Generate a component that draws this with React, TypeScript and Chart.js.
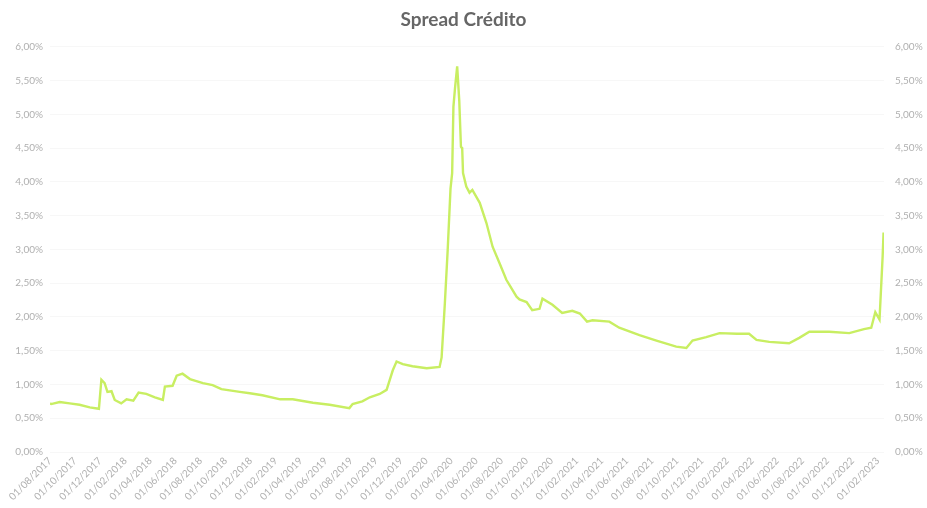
import React, { useEffect, useRef } from "react";
import { Chart, registerables } from "chart.js";

Chart.register(...registerables);

const chartTitle = "Spread Crédito";

const dates: string[] = [
  "01/08/2017", "04/08/2017", "25/08/2017", "18/09/2017", "12/10/2017", "06/11/2017", "28/11/2017",
  "04/12/2017", "12/12/2017", "19/12/2017", "29/12/2017", "06/01/2018", "22/01/2018",
  "04/02/2018", "19/02/2018", "03/03/2018", "22/03/2018", "12/04/2018", "01/05/2018",
  "06/05/2018", "25/05/2018", "04/06/2018", "18/06/2018", "06/07/2018", "07/08/2018",
  "31/08/2018", "21/09/2018", "05/11/2018", "29/11/2018", "30/12/2018", "11/02/2019",
  "12/03/2019", "30/04/2019", "10/06/2019", "28/07/2019", "05/08/2019", "29/08/2019",
  "16/09/2019", "10/10/2019", "27/10/2019", "11/11/2019", "20/11/2019", "05/12/2019",
  "29/12/2019", "02/02/2020", "03/03/2020", "08/03/2020", "16/03/2020", "23/03/2020",
  "30/03/2020", "03/04/2020", "06/04/2020", "10/04/2020", "15/04/2020", "20/04/2020",
  "24/04/2020", "27/04/2020", "29/04/2020", "07/05/2020", "15/05/2020", "22/05/2020",
  "09/06/2020", "25/06/2020", "10/07/2020", "27/07/2020", "13/08/2020", "07/09/2020",
  "14/09/2020", "01/10/2020", "15/10/2020", "02/11/2020", "09/11/2020", "03/12/2020",
  "27/12/2020", "21/01/2021", "08/02/2021", "24/02/2021", "09/03/2021", "19/04/2021",
  "13/05/2021", "01/07/2021", "12/08/2021", "29/09/2021", "24/10/2021", "08/11/2021",
  "11/12/2021", "13/01/2022", "23/02/2022", "24/03/2022", "11/04/2022", "12/05/2022",
  "29/06/2022", "24/07/2022", "18/08/2022", "05/10/2022", "23/11/2022", "29/12/2022",
  "16/01/2023", "26/01/2023", "05/02/2023", "12/02/2023", "14/02/2023", "15/02/2023",
];

const spread: number[] = [
  0.72, 0.71, 0.74, 0.72, 0.70, 0.66, 0.64,
  1.07, 1.02, 0.89, 0.90, 0.77, 0.72,
  0.78, 0.76, 0.88, 0.86, 0.81, 0.77,
  0.97, 0.98, 1.13, 1.16, 1.08, 1.02,
  0.99, 0.93, 0.89, 0.87, 0.84, 0.78,
  0.78, 0.73, 0.70, 0.65, 0.71, 0.75,
  0.81, 0.86, 0.92, 1.21, 1.34, 1.30,
  1.27, 1.24, 1.26, 1.40, 2.20, 2.99,
  3.90, 4.13, 5.11, 5.40, 5.71, 5.20,
  4.52, 4.50, 4.13, 3.93, 3.84, 3.88,
  3.69, 3.39, 3.04, 2.80, 2.55, 2.30,
  2.26, 2.22, 2.10, 2.12, 2.27, 2.18,
  2.06, 2.09, 2.05, 1.93, 1.95, 1.93,
  1.84, 1.73, 1.65, 1.56, 1.54, 1.65,
  1.70, 1.76, 1.75, 1.75, 1.66, 1.63,
  1.61, 1.69, 1.78, 1.78, 1.76, 1.82,
  1.84, 2.07, 1.96, 2.90, 3.25, 3.05,
];

const startYear = 2017;
const startMonth = 8; // August
const yTickStep = 0.5;
const yMax = 6;
const xMax = 66.5;

function toMonthOffset(d: string): number {
  const [dd, mm, yyyy] = d.split("/").map(Number);
  const daysInMonth = new Date(yyyy, mm, 0).getDate();
  return (yyyy - startYear) * 12 + (mm - startMonth) + (dd - 1) / daysInMonth;
}

function monthLabel(v: number): string {
  const total = startMonth - 1 + Math.round(v);
  const y = startYear + Math.floor(total / 12);
  const m = (total % 12) + 1;
  return "01/" + String(m).padStart(2, "0") + "/" + y;
}

const pct = (v: number) => v.toFixed(2).replace(".", ",") + "%";

export default function App() {
  const ref = useRef<HTMLCanvasElement | null>(null);

  useEffect(() => {
    if (!ref.current) return;
    const tickFont = { family: "Lato, 'Open Sans', sans-serif", size: 10 };
    const tickColor = "#b0b0b0";
    const chart = new Chart(ref.current, {
      type: "line",
      data: {
        datasets: [
          {
            label: "Spread",
            data: dates.map((d, i) => ({ x: toMonthOffset(d), y: spread[i] })),
            borderColor: "#c8ee62",
            borderWidth: 2.4,
            pointRadius: 0,
            tension: 0,
            fill: false,
          },
        ],
      },
      options: {
        animation: false,
        responsive: false,
        maintainAspectRatio: false,
        layout: { padding: { left: 0, right: 0, top: 0, bottom: 0 } },
        plugins: {
          legend: { display: false },
          tooltip: { enabled: false },
          title: {
            display: true,
            text: chartTitle,
            color: "#666666",
            font: { family: "Lato, 'Open Sans', sans-serif", size: 19, weight: "bold" },
            padding: { top: 8, bottom: 16 },
          },
        },
        scales: {
          x: {
            type: "linear",
            min: 0,
            max: xMax,
            grid: { display: false, drawTicks: false },
            border: { display: false },
            ticks: {
              stepSize: 2,
              includeBounds: false,
              autoSkip: false,
              minRotation: 45,
              maxRotation: 45,
              padding: 3,
              color: tickColor,
              font: tickFont,
              callback: (v: any) => monthLabel(Number(v)),
            },
            afterFit: (s: any) => {
              s.height = 56;
            },
          },
          y: {
            position: "left",
            min: 0,
            max: yMax,
            grid: { color: "#f7f7f7", drawTicks: false },
            border: { display: false },
            ticks: {
              stepSize: yTickStep,
              padding: 7,
              color: tickColor,
              font: tickFont,
              callback: (v: any) => pct(Number(v)),
            },
            afterFit: (s: any) => {
              s.width = 50;
            },
          },
          y2: {
            position: "right",
            min: 0,
            max: yMax,
            grid: { display: false, drawTicks: false },
            border: { display: false },
            ticks: {
              stepSize: yTickStep,
              padding: 11,
              color: tickColor,
              font: tickFont,
              callback: (v: any) => pct(Number(v)),
            },
            afterFit: (s: any) => {
              s.width = 43;
            },
          },
        },
      },
    });
    return () => chart.destroy();
  }, []);

  return (
    <div style={{ position: "fixed", left: 0, top: 0, width: 927, height: 508, background: "#ffffff" }}>
      <canvas ref={ref} width={927} height={508} />
    </div>
  );
}
